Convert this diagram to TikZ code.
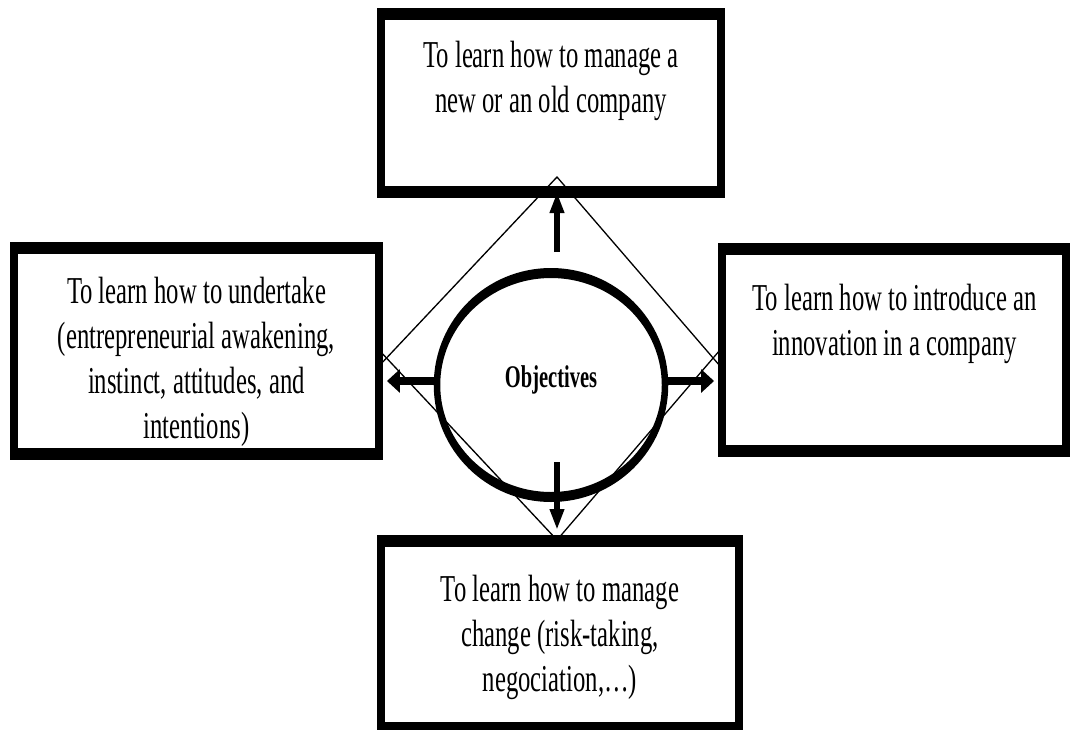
\documentclass[tikz,border=0pt]{standalone}
\usepackage{fontspec}
\setmainfont{Liberation Serif}
\usetikzlibrary{arrows.meta,shapes.geometric,fit}
\begin{document}
\begin{tikzpicture}[x=1pt,y=-1pt]
\useasboundingbox (0,0) rectangle (1072,729);
% the whole figure is set in a horizontally condensed canvas
\begin{scope}[x=1.538462pt, transform canvas={xscale=0.65},
  goalbox/.style={draw=black, line width=12pt, inner sep=0pt, rectangle},
  goaltext/.style={anchor=north, align=center, inner sep=0pt,
    font=\fontsize{38}{45}\selectfont},
  hub/.style={draw=black, line width=10pt, ellipse, inner sep=0pt,
    minimum width=350.8pt, minimum height=224pt,
    font=\bfseries\fontsize{31.5}{36}\selectfont,
    text height=21.5pt, text depth=17.5pt},
  push/.style={line width=8.5pt, -{Triangle[length=20pt,width=22pt]}},
  rim/.style={line width=1.6pt}]

  % thin crossing lines forming the diamond
  \coordinate (dT) at (557,177);
  \coordinate (dB) at (557,540);
  \coordinate (dL1) at (379,366);
  \coordinate (dL2) at (379,350);
  \coordinate (dR1) at (720,366);
  \coordinate (dR2) at (720,350);
  \draw[rim] (dL1) -- (dT) -- (dR1);
  \draw[rim] (dL2) -- (dB) -- (dR2);

  % central objective
  \node[hub] (hub) at (551,385) {Objectives};

  % the four goal boxes
  \node[goalbox, fit={(381,14) (721,192)}] (manage) {};
  \node[goalbox, fit={(14,248) (379,454)}] (undertake) {};
  \node[goalbox, fit={(722,249) (1066,451)}] (innovate) {};
  \node[goalbox, fit={(381,541) (739,728)}] (change) {};

  \node[goaltext] (manageText) at (551,41)
    {To learn how to manage a\\new or an old company};
  \node[goaltext] (undertakeText) at (196.5,277)
    {To learn how to undertake\\(entrepreneurial awakening,\\instinct, attitudes, and\\intentions)};
  \node[goaltext] (innovateText) at (894.5,284)
    {To learn how to introduce an\\innovation in a company};
  \node[goaltext] (changeText) at (560,575)
    {To learn how to manage\\change (risk-taking,\\negociation,\ldots)};

  % arrows from the objective to each goal
  \coordinate (upStart) at (557,252);
  \coordinate (downStart) at (557,462);
  \coordinate (midline) at (551,381);
  \draw[push, shorten >=-5pt] (upStart) -- (upStart |- manage.south);
  \draw[push, shorten >=6pt] (downStart) -- (downStart |- change.north);
  \draw[push, shorten >=6pt] (hub.west |- midline) -- (undertake.east |- midline);
  \draw[push, shorten >=6pt] (hub.east |- midline) -- (innovate.west |- midline);
\end{scope}
\end{tikzpicture}
\end{document}
